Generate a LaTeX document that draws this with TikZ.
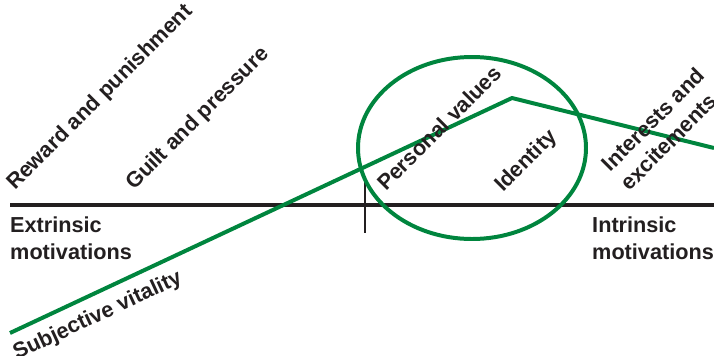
\documentclass[tikz,border=0pt]{standalone}
\usepackage{fontspec}
\setmainfont{Liberation Sans}
\usetikzlibrary{positioning}
\definecolor{vitgreen}{RGB}{0,133,62}
\definecolor{inkgray}{RGB}{35,31,32}

\begin{document}
\begin{tikzpicture}[x=0.03cm,y=-0.03cm]
    \tikzset{
      lbl/.style={font=\bfseries\fontsize{18.5}{23}\selectfont, text=inkgray, inner sep=0pt},
      tilt/.style={lbl, rotate=45, anchor=base west},
      axisline/.style={draw=inkgray, line width=3.2pt},
      vitline/.style={draw=vitgreen, line width=3.4pt, line join=round}
    }
    \useasboundingbox (0,0) rectangle (714,355);

    % motivation axis
    \coordinate (axl) at (10,205);
    \coordinate (axr) at (714,205);
    \coordinate (ticktop) at (365,177);
    \coordinate (tickbot) at (365,233);
    \draw[axisline] (axl) -- (axr);
    \draw[draw=inkgray, line width=1.6pt] (ticktop) -- (tickbot);

    % vitality curve and the circled zone
    \coordinate (vstart) at (10,333);
    \coordinate (vpeak) at (512,98);
    \coordinate (vend) at (714,148);
    \draw[vitline] (vstart) -- (vpeak) -- (vend);
    \draw[draw=vitgreen, line width=3.4pt] (472,148) ellipse [x radius=114, y radius=91];

    \node[lbl, anchor=north west, align=left] (extr) at (10,217) {Extrinsic\\motivations};
    \node[lbl, anchor=north west, align=left] (intr) at (592,217) {Intrinsic\\motivations};

    \node[tilt] (reward) at (15,191) {Reward and punishment};
    \node[tilt] (guilt) at (134,191) {Guilt and pressure};
    \node[tilt] (values) at (386,192) {Personal values};
    \node[tilt] (ident) at (503,193) {Identity};
    \node[lbl, rotate=45, anchor=south west, align=left] (inter) at (630,192) {Interests and\\excitements};
    \node[lbl, rotate=25, anchor=base west] (vital) at (17,360) {Subjective vitality};
  \end{tikzpicture}
\end{document}
